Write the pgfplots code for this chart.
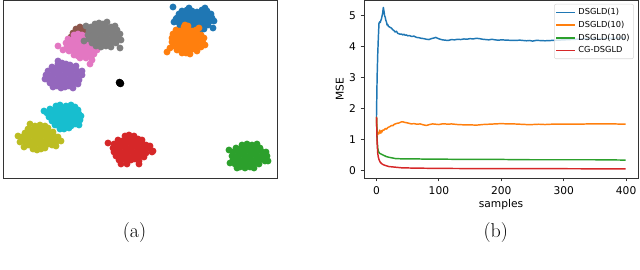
\documentclass[border=0pt]{standalone}
\usepackage{pgfplots}
\pgfplotsset{compat=1.18}
\usepackage{fontspec}
\newfontfamily\dejavu{DejaVu Sans}
\definecolor{tabblue}{HTML}{1F77B4}
\definecolor{taborange}{HTML}{FF7F0E}
\definecolor{tabgreen}{HTML}{2CA02C}
\definecolor{tabred}{HTML}{D62728}
\definecolor{tabpurple}{HTML}{9467BD}
\definecolor{tabbrown}{HTML}{8C564B}
\definecolor{tabpink}{HTML}{E377C2}
\definecolor{tabgray}{HTML}{7F7F7F}
\definecolor{tabolive}{HTML}{BCBD22}
\definecolor{tabcyan}{HTML}{17BECF}
\begin{document}
\begin{tikzpicture}
\path[use as bounding box] (0,0) rectangle (480pt,202.5pt);
% ---------------- (a) scatter ----------------
\begin{axis}[
  at={(2.25pt,69pt)}, anchor=south west,
  scale only axis, width=205.5pt, height=133.5pt,
  xmin=3, xmax=277, ymin=0, ymax=178, y dir=reverse,
  xtick=\empty, ytick=\empty,
  axis line style={line width=0.6pt, black!80},
  clip=true,
  every axis plot/.append style={only marks, mark=*, mark size=2.35pt},
]
\addplot[tabblue, mark options={fill=tabblue, draw=tabblue}] coordinates {
(182,11)(187,10)(192,11)(197,12)(202,10)(207,11)
(179,14)(183,15)(187,14)(191,13)(195,15)(199,14)(203,13)(207,15)(211,14)
(177,18)(181,17)(185,19)(189,18)(193,17)(197,19)(201,18)(205,17)(209,19)(212,18)
(178,22)(182,23)(186,21)(190,22)(194,23)(198,21)(202,22)(206,23)(210,21)
(180,26)(184,25)(188,27)(192,26)(196,25)(200,27)(204,26)(208,25)
(184,30)(188,31)(192,29)(196,30)(200,31)(204,29)
(173,7)(174,22)(213,28)(214,21)(176,19)(189,8)(205,8)(186,12)(200,16)
};
\addplot[taborange, mark options={fill=taborange, draw=taborange}] coordinates {
(184,27)(188,26)
(176,30)(180,31)(184,30)(188,29)(192,31)(196,30)
(173,34)(177,35)(181,34)(185,33)(189,35)(193,34)(197,33)(201,35)
(172,38)(176,39)(180,38)(184,37)(188,39)(192,38)(196,37)(200,39)(204,38)
(172,42)(176,41)(180,43)(184,42)(188,41)(192,43)(196,42)(200,41)(203,43)
(173,46)(177,47)(181,45)(185,46)(189,47)(193,45)(197,46)(201,47)
(177,50)(181,49)(185,51)(189,50)(193,49)(197,51)
(186,53)(190,54)(182,53)
(167,52)(170,48)(199,28)(185,25)(205,45)
};
\addplot[tabgreen, mark options={fill=tabgreen, draw=tabgreen}] coordinates {
(242,145)(247,144)(252,145)
(236,148)(240,149)(244,147)(248,148)(252,149)(256,147)(260,148)
(233,152)(237,151)(241,153)(245,152)(249,151)(253,153)(257,152)(261,151)(264,153)
(232,156)(236,157)(240,155)(244,156)(248,157)(252,155)(256,156)(260,157)(264,155)(267,156)
(233,160)(237,159)(241,161)(245,160)(249,159)(253,161)(257,160)(261,159)(265,161)
(235,164)(239,165)(243,163)(247,164)(251,165)(255,163)(259,164)
(240,167)(245,168)(250,167)(254,168)
(229,150)(230,163)(266,152)(237,168)(257,144)(268,161)
};
\addplot[tabred, mark options={fill=tabred, draw=tabred}] coordinates {
(125,136)(129,135)(134,136)
(118,140)(122,141)(126,139)(130,140)(134,141)(138,139)(142,140)
(114,144)(118,143)(122,145)(126,144)(130,143)(134,145)(138,144)(142,143)(146,145)
(113,148)(117,149)(121,147)(125,148)(129,149)(133,147)(137,148)(141,149)(145,147)(149,148)
(114,152)(118,151)(122,153)(126,152)(130,151)(134,153)(138,152)(142,151)(146,153)(152,152)
(116,156)(120,157)(124,155)(128,156)(132,157)(136,155)(140,156)(144,157)
(119,160)(123,159)(127,161)(131,160)(135,159)(139,161)
(121,164)(127,164)(139,164)
(108,143)(153,151)(150,146)
};
\addplot[tabpurple, mark options={fill=tabpurple, draw=tabpurple}] coordinates {
(58,64)(62,63)(66,64)(70,65)
(52,67)(56,68)(60,67)(64,66)(68,68)(72,67)(76,66)
(48,71)(52,70)(56,72)(60,71)(64,70)(68,72)(72,71)(76,70)(80,72)
(46,75)(50,76)(54,74)(58,75)(62,76)(66,74)(70,75)(74,76)(78,74)(82,75)
(47,79)(51,78)(55,80)(59,79)(63,78)(67,80)(71,79)(75,78)(79,80)
(50,83)(54,84)(58,82)(62,83)(66,84)(70,82)(74,83)(78,84)
(53,87)(57,86)(61,88)(65,87)(69,86)(73,88)
(58,61)(82,71)(45,79)
};
\addplot[tabbrown, mark options={fill=tabbrown, draw=tabbrown}] coordinates {
(73,33)(76,29)(80,27)(84,28)(88,30)(91,32)(78,32)(83,31)(71,37)(86,33)(80,36)(75,38)(92,55)
};
\addplot[tabpink, mark options={fill=tabpink, draw=tabpink}] coordinates {
(74,35)(78,34)(82,35)(86,36)(90,35)
(68,39)(72,40)(76,38)(80,39)(84,40)(88,38)(92,39)(96,40)
(66,43)(70,42)(74,44)(78,43)(82,42)(86,44)(90,43)(94,42)(98,44)
(67,47)(71,48)(75,46)(79,47)(83,48)(87,46)(91,47)(95,48)(99,46)
(69,51)(73,50)(77,52)(81,51)(85,50)(89,52)(93,51)(97,50)
(74,55)(78,56)(82,54)(86,55)(90,56)(94,54)
(80,58)(86,58)
(58,46)(63,50)(90,64)(92,60)
};
\addplot[tabgray, mark options={fill=tabgray, draw=tabgray}] coordinates {
(95,24)(99,23)(103,24)(107,22)
(91,27)(95,28)(99,27)(103,26)(107,28)(111,27)(115,26)
(89,31)(93,30)(97,32)(101,31)(105,30)(109,32)(113,31)(117,30)
(88,35)(92,36)(96,34)(100,35)(104,36)(108,34)(112,35)(116,36)(120,34)
(89,39)(93,38)(97,40)(101,39)(105,38)(109,40)(113,39)(117,38)(121,40)
(92,43)(96,44)(100,42)(104,43)(108,44)(112,42)(116,43)
(96,46)(101,47)(106,46)(111,47)
(84,41)(120,48)(86,26)
};
\addplot[tabolive, mark options={fill=tabolive, draw=tabolive}] coordinates {
(35,126)(40,125)(45,126)
(28,129)(32,130)(36,128)(40,129)(44,130)(48,128)
(25,133)(29,132)(33,134)(37,133)(41,132)(45,134)(49,133)(53,132)
(22,137)(26,138)(30,136)(34,137)(38,138)(42,136)(46,137)(50,138)(54,136)(58,137)
(24,141)(28,140)(32,142)(36,141)(40,140)(44,142)(48,141)(52,140)(56,142)(61,141)
(28,145)(32,146)(36,144)(40,145)(44,146)(48,144)(52,145)(56,146)
(33,149)(37,150)(41,149)(45,148)
(18,136)(20,142)(24,147)(30,124)
};
\addplot[tabcyan, mark options={fill=tabcyan, draw=tabcyan}] coordinates {
(56,106)(60,105)(66,106)(71,105)(75,107)
(50,109)(54,110)(58,108)(62,109)(66,110)(70,108)(74,109)(78,110)
(47,113)(51,112)(55,114)(59,113)(63,112)(67,114)(71,113)(75,112)(79,114)
(49,117)(53,118)(57,116)(61,117)(65,118)(69,116)(73,117)(77,118)(81,116)
(52,121)(56,120)(60,122)(64,121)(68,120)(72,122)(76,121)(80,120)
(55,125)(59,126)(63,124)(67,125)(71,126)(75,124)(79,125)
(60,129)(64,129)(69,128)
(44,111)
};
\addplot[black, mark options={fill=black, draw=black}, mark size=2.6pt] coordinates {
(120,83)(119.5,82.5)(120.5,83.5)
};
\end{axis}
% ---------------- (b) MSE ----------------
\begin{axis}[
  at={(273pt,69pt)}, anchor=south west,
  scale only axis, width=205.5pt, height=133.5pt,
  xmin=-20, xmax=419, ymin=-0.25, ymax=5.51,
  xtick={0,100,200,300,400}, ytick={0,1,2,3,4,5},
  tick align=outside, tick pos=left,
  major tick length=2.6pt,
  every tick/.style={black!80, line width=0.6pt},
  axis line style={line width=0.6pt, black!80},
  /pgf/number format/assume math mode=true,
  ticklabel style={font=\dejavu\fontsize{8}{9.6}\selectfont},
  xlabel={samples}, ylabel={MSE},
  label style={font=\dejavu\fontsize{8}{9.6}\selectfont},
  xlabel style={yshift=3pt},
  ylabel style={yshift=-3pt},
  legend style={at={(0.985,0.978)}, anchor=north east,
    font=\dejavu\fontsize{6.2}{7}\selectfont,
    draw=black!15, fill=white, fill opacity=0.8, text opacity=1,
    rounded corners=1.5pt, inner sep=1pt, row sep=-0.6pt},
  legend cell align=left,
  legend image code/.code={\draw[#1, line width=1.1pt] (0pt,0pt) -- (14pt,0pt);},
  every axis plot/.append style={line width=1.1pt, line join=round},
]
\addplot[tabblue] coordinates {
(0,1.73)(1,3.0)(2,3.75)(3,4.3)(4,4.75)(5,4.8)(6,4.78)(7,4.85)(8,4.9)(9,5.0)(10,5.1)(11,5.27)(12,5.15)(13,5.0)(14,4.95)(15,4.85)(16,4.8)(17,4.7)(18,4.72)(19,4.66)(20,4.65)(22,4.62)(24,4.6)(26,4.55)(28,4.52)(30,4.47)(32,4.5)(34,4.43)(36,4.42)(38,4.4)(40,4.41)(42,4.38)(44,4.4)(46,4.37)(48,4.38)(50,4.35)(53,4.36)(56,4.33)(60,4.34)(64,4.3)(68,4.29)(72,4.27)(76,4.26)(80,4.24)(84,4.23)(88,4.26)(92,4.28)(95,4.3)(98,4.27)(102,4.24)(106,4.22)(110,4.21)(115,4.2)(120,4.23)(125,4.22)(130,4.24)(135,4.23)(140,4.25)(145,4.24)(150,4.26)(155,4.25)(160,4.27)(165,4.26)(170,4.24)(175,4.23)(180,4.22)(185,4.24)(190,4.22)(195,4.21)(200,4.22)(210,4.21)(220,4.2)(230,4.21)(240,4.19)(245,4.2)(250,4.18)(255,4.2)(260,4.2)(270,4.19)(280,4.2)(290,4.21)(300,4.22)(310,4.23)(320,4.24)(330,4.25)(340,4.25)(350,4.26)(360,4.26)(370,4.27)(380,4.27)(390,4.28)(399,4.27)
};
\addlegendentry{DSGLD(1)}
\addplot[taborange] coordinates {
(0,1.73)(1,1.2)(2,1.15)(3,1.22)(4,1.18)(5,1.3)(6,1.25)(7,1.2)(8,1.28)(9,1.24)(10,1.3)(12,1.3)(14,1.35)(16,1.33)(18,1.38)(20,1.4)(22,1.42)(24,1.45)(26,1.44)(28,1.48)(30,1.5)(33,1.52)(36,1.53)(39,1.56)(42,1.57)(45,1.55)(48,1.54)(52,1.52)(56,1.5)(60,1.51)(65,1.49)(70,1.5)(75,1.47)(80,1.45)(85,1.48)(90,1.5)(95,1.49)(100,1.48)(105,1.5)(110,1.5)(115,1.49)(120,1.5)(130,1.48)(140,1.47)(150,1.47)(160,1.46)(170,1.48)(180,1.49)(190,1.5)(200,1.51)(210,1.5)(220,1.5)(230,1.49)(240,1.48)(250,1.48)(260,1.49)(270,1.48)(280,1.49)(300,1.49)(320,1.49)(340,1.5)(360,1.5)(380,1.5)(399,1.49)
};
\addlegendentry{DSGLD(10)}
\addplot[tabgreen] coordinates {
(0,1.73)(1,1.0)(2,0.72)(3,0.62)(4,0.58)(5,0.55)(7,0.53)(10,0.5)(13,0.47)(16,0.44)(20,0.42)(25,0.4)(30,0.38)(40,0.37)(50,0.37)(60,0.37)(80,0.36)(100,0.36)(150,0.35)(200,0.35)(250,0.34)(300,0.34)(350,0.34)(399,0.33)
};
\addlegendentry{DSGLD(100)}
\addplot[tabred] coordinates {
(0,1.73)(1,0.9)(2,0.55)(3,0.42)(4,0.35)(5,0.3)(6,0.26)(8,0.22)(10,0.19)(12,0.17)(15,0.15)(20,0.12)(25,0.11)(30,0.1)(40,0.08)(50,0.075)(60,0.07)(80,0.065)(100,0.06)(150,0.055)(200,0.05)(300,0.05)(399,0.045)
};
\addlegendentry{CG-DSGLD}
\end{axis}
\node[font=\fontsize{15}{18}\selectfont] at (100.9pt,27.75pt) {(a)};
\node[font=\fontsize{15}{18}\selectfont] at (371.8pt,27.75pt) {(b)};
\end{tikzpicture}
\end{document}
